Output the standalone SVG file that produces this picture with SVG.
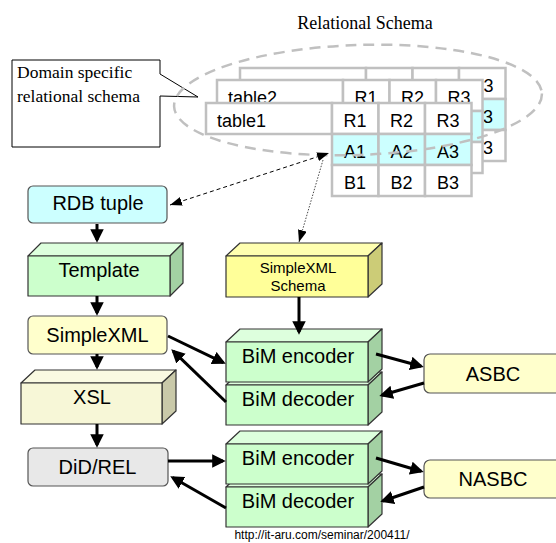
<svg xmlns="http://www.w3.org/2000/svg" width="556" height="543" viewBox="0 0 556 543">
  <style>
    .sans { font-family: "Liberation Sans", Arial, sans-serif; fill: #000; }
    .serif { font-family: "Liberation Serif", "Times New Roman", serif; fill: #000; }
    .lbl { font-size: 20px; text-anchor: middle; }
    .cell { fill: #fff; stroke: #c0c0c0; stroke-width: 2.5; }
    .cellA { fill: #ccffff; stroke: #c0c0c0; stroke-width: 2.5; }
    .ct { font-size: 18px; text-anchor: middle; }
    .edge { stroke: #333; stroke-width: 1.2; stroke-linejoin: round; }
    .g-front { fill: #ccffcc; } .g-top { fill: #ddffdd; } .g-side { fill: #a3d1a3; }
    .y-front { fill: #ffff99; } .y-top { fill: #ffffb0; } .y-side { fill: #cccc77; }
    .c-front { fill: #f7f7d7; } .c-top { fill: #fafae2; } .c-side { fill: #c9c9a9; }
    .rbox { stroke: #555; stroke-width: 1.2; }
    .thick { stroke: #000; stroke-width: 3; fill: none; marker-end: url(#ah); }
  </style>
  <defs>
    <marker id="ah" viewBox="0 0 10 10" refX="8" refY="5" markerWidth="4.5" markerHeight="5" orient="auto">
      <path d="M0,0 L10,5 L0,10 z" fill="#000"/>
    </marker>
    <marker id="sh" markerUnits="userSpaceOnUse" viewBox="0 0 12 9" refX="12" refY="4.5" markerWidth="12" markerHeight="9" orient="auto-start-reverse">
      <path d="M0,0 L12,4.5 L0,9 z" fill="#000"/>
    </marker>
  </defs>

  <rect width="556" height="543" fill="#fff"/>

  <!-- title of the schema cloud -->
  <text class="serif" x="365" y="29" font-size="18" text-anchor="middle">Relational Schema</text>

  <!-- callout -->
  <g id="callout">
    <path d="M12,60 H160 V74 L198,97 L160,96 V147 H12 Z" fill="#fff" stroke="#000" stroke-width="1"/>
    <text class="serif" x="17" y="78" font-size="17.5">Domain specific</text>
    <text class="serif" x="17" y="102" font-size="17.5">relational schema</text>
  </g>

  <!-- stacked relational tables -->
  <g id="table3">
    <rect class="cell" x="240" y="68" width="126" height="31"/>
    <rect class="cell" x="366" y="68" width="46.5" height="31"/>
    <rect class="cell" x="412.5" y="68" width="46.5" height="31"/>
    <rect class="cell" x="459" y="68" width="46.5" height="31"/>
    <rect class="cellA" x="366" y="99" width="46.5" height="31"/>
    <rect class="cellA" x="412.5" y="99" width="46.5" height="31"/>
    <rect class="cellA" x="459" y="99" width="46.5" height="31"/>
    <rect class="cell" x="366" y="130" width="46.5" height="31"/>
    <rect class="cell" x="412.5" y="130" width="46.5" height="31"/>
    <rect class="cell" x="459" y="130" width="46.5" height="31"/>
    <text class="sans ct" x="482" y="92">R3</text>
    <text class="sans ct" x="482" y="123">A3</text>
    <text class="sans ct" x="482" y="154">B3</text>
  </g>
  <g id="table2">
    <rect class="cell" x="217" y="80" width="126" height="31"/>
    <rect class="cell" x="343" y="80" width="46.5" height="31"/>
    <rect class="cell" x="389.5" y="80" width="46.5" height="31"/>
    <rect class="cell" x="436" y="80" width="46.5" height="31"/>
    <rect class="cellA" x="343" y="111" width="46.5" height="31"/>
    <rect class="cellA" x="389.5" y="111" width="46.5" height="31"/>
    <rect class="cellA" x="436" y="111" width="46.5" height="31"/>
    <rect class="cell" x="343" y="142" width="46.5" height="31"/>
    <rect class="cell" x="389.5" y="142" width="46.5" height="31"/>
    <rect class="cell" x="436" y="142" width="46.5" height="31"/>
    <text class="sans" x="228" y="104" font-size="18">table2</text>
    <text class="sans ct" x="366" y="104">R1</text>
    <text class="sans ct" x="412.5" y="104">R2</text>
    <text class="sans ct" x="459" y="104">R3</text>
  </g>
  <g id="table1">
    <rect class="cell" x="206" y="103" width="126" height="31"/>
    <rect class="cell" x="332" y="103" width="46.5" height="31"/>
    <rect class="cell" x="378.5" y="103" width="46.5" height="31"/>
    <rect class="cell" x="425" y="103" width="46.5" height="31"/>
    <rect class="cellA" x="332" y="134" width="46.5" height="31"/>
    <rect class="cellA" x="378.5" y="134" width="46.5" height="31"/>
    <rect class="cellA" x="425" y="134" width="46.5" height="31"/>
    <rect class="cell" x="332" y="165" width="46.5" height="31"/>
    <rect class="cell" x="378.5" y="165" width="46.5" height="31"/>
    <rect class="cell" x="425" y="165" width="46.5" height="31"/>
    <text class="sans" x="217" y="127" font-size="18">table1</text>
    <text class="sans ct" x="355" y="127">R1</text>
    <text class="sans ct" x="401.5" y="127">R2</text>
    <text class="sans ct" x="448" y="127">R3</text>
    <text class="sans ct" x="355" y="158">A1</text>
    <text class="sans ct" x="401.5" y="158">A2</text>
    <text class="sans ct" x="448" y="158">A3</text>
    <text class="sans ct" x="355" y="189">B1</text>
    <text class="sans ct" x="401.5" y="189">B2</text>
    <text class="sans ct" x="448" y="189">B3</text>
  </g>

  <!-- dashed boundary of the relational schema -->
  <ellipse id="schema-cloud" cx="358" cy="100" rx="184" ry="55" transform="rotate(-2 358 100)" fill="none" stroke="#c0c0c0" stroke-width="2.5" stroke-dasharray="11 7"/>

  <!-- left column -->
  <g id="rdb-tuple">
    <rect class="rbox" x="28" y="186" width="139" height="37" rx="5" fill="#ccffff"/>
    <text class="sans lbl" x="98" y="210">RDB tuple</text>
  </g>
  <g id="template">
    <path class="g-top edge" d="M28,256 L41,243 L183,243 L170,256 Z"/>
    <path class="g-side edge" d="M170,256 L183,243 L183,283 L170,296 Z"/>
    <rect class="g-front edge" x="28" y="256" width="142" height="40"/>
    <text class="sans lbl" x="99" y="277">Template</text>
  </g>
  <g id="simplexml">
    <rect class="rbox" x="28" y="316" width="139" height="38" rx="5" fill="#ffffcc"/>
    <text class="sans lbl" x="97.5" y="342">SimpleXML</text>
  </g>
  <g id="xsl">
    <path class="c-top edge" d="M21,383 L35,370 L176,370 L162,383 Z"/>
    <path class="c-side edge" d="M162,383 L176,370 L176,411 L162,424 Z"/>
    <rect class="c-front edge" x="21" y="383" width="141" height="41"/>
    <text class="sans lbl" x="92" y="404">XSL</text>
  </g>
  <g id="did-rel">
    <rect class="rbox" x="28" y="448" width="140" height="38" rx="5" fill="#e8e8e8"/>
    <text class="sans lbl" x="97.5" y="474">DiD/REL</text>
  </g>

  <!-- middle column -->
  <g id="simplexml-schema">
    <path class="y-top edge" d="M226,256 L240,243 L382,243 L368,256 Z"/>
    <path class="y-side edge" d="M368,256 L382,243 L382,284 L368,297 Z"/>
    <rect class="y-front edge" x="226" y="256" width="142" height="41"/>
    <text class="sans" x="298" y="273" font-size="15" text-anchor="middle">SimpleXML</text>
    <text class="sans" x="298" y="291" font-size="15" text-anchor="middle">Schema</text>
  </g>
  <g id="bim-decoder-1">
    <path class="g-top edge" d="M226,385 L240,372 L382,372 L368,385 Z"/>
    <path class="g-side edge" d="M368,385 L382,372 L382,412 L368,425 Z"/>
    <rect class="g-front edge" x="226" y="385" width="142" height="40"/>
    <text class="sans lbl" x="298" y="406">BiM decoder</text>
  </g>
  <g id="bim-encoder-1">
    <path class="g-top edge" d="M226,342 L240,329 L382,329 L368,342 Z"/>
    <path class="g-side edge" d="M368,342 L382,329 L382,369 L368,382 Z"/>
    <rect class="g-front edge" x="226" y="342" width="142" height="40"/>
    <text class="sans lbl" x="298" y="363">BiM encoder</text>
  </g>
  <g id="bim-decoder-2">
    <path class="g-top edge" d="M226,487 L240,474 L382,474 L368,487 Z"/>
    <path class="g-side edge" d="M368,487 L382,474 L382,514 L368,527 Z"/>
    <rect class="g-front edge" x="226" y="487" width="142" height="40"/>
    <text class="sans lbl" x="298" y="508">BiM decoder</text>
  </g>
  <g id="bim-encoder-2">
    <path class="g-top edge" d="M226,444 L240,431 L382,431 L368,444 Z"/>
    <path class="g-side edge" d="M368,444 L382,431 L382,471 L368,484 Z"/>
    <rect class="g-front edge" x="226" y="444" width="142" height="40"/>
    <text class="sans lbl" x="298" y="465">BiM encoder</text>
  </g>

  <!-- right column -->
  <g id="asbc">
    <rect class="rbox" x="424" y="354" width="140" height="39" rx="6" fill="#ffffcc"/>
    <text class="sans lbl" x="493" y="381">ASBC</text>
  </g>
  <g id="nasbc">
    <rect class="rbox" x="424" y="460" width="140" height="38" rx="6" fill="#ffffcc"/>
    <text class="sans lbl" x="493" y="486">NASBC</text>
  </g>

  <!-- connectors -->
  <g id="connectors">
    <line x1="170" y1="205" x2="329" y2="153" stroke="#000" stroke-width="1" stroke-dasharray="4 3" marker-start="url(#sh)" marker-end="url(#sh)"/>
    <line x1="323" y1="160" x2="299" y2="242" stroke="#333" stroke-width="0.9" stroke-dasharray="1.5 1.5" marker-end="url(#sh)"/>
    <path class="thick" d="M97,224 V240"/>
    <path class="thick" d="M97,296 V313"/>
    <path class="thick" d="M97,354 V367"/>
    <path class="thick" d="M97,424 V445"/>
    <path class="thick" d="M299,297 V332"/>
    <path class="thick" d="M168,336 L223.3,362.7"/>
    <path class="thick" d="M226,402 L173.2,351.1"/>
    <path class="thick" d="M376,354 L421.1,366.2"/>
    <path class="thick" d="M424,383 L381.9,395.2"/>
    <path class="thick" d="M168,461 L223,461"/>
    <path class="thick" d="M226,508 L172.6,477.5"/>
    <path class="thick" d="M376,458 L421.1,471.2"/>
    <path class="thick" d="M424,487 L382.8,501"/>
  </g>

  <text class="sans" x="322" y="539" font-size="12" text-anchor="middle">http://it-aru.com/seminar/200411/</text>
</svg>
